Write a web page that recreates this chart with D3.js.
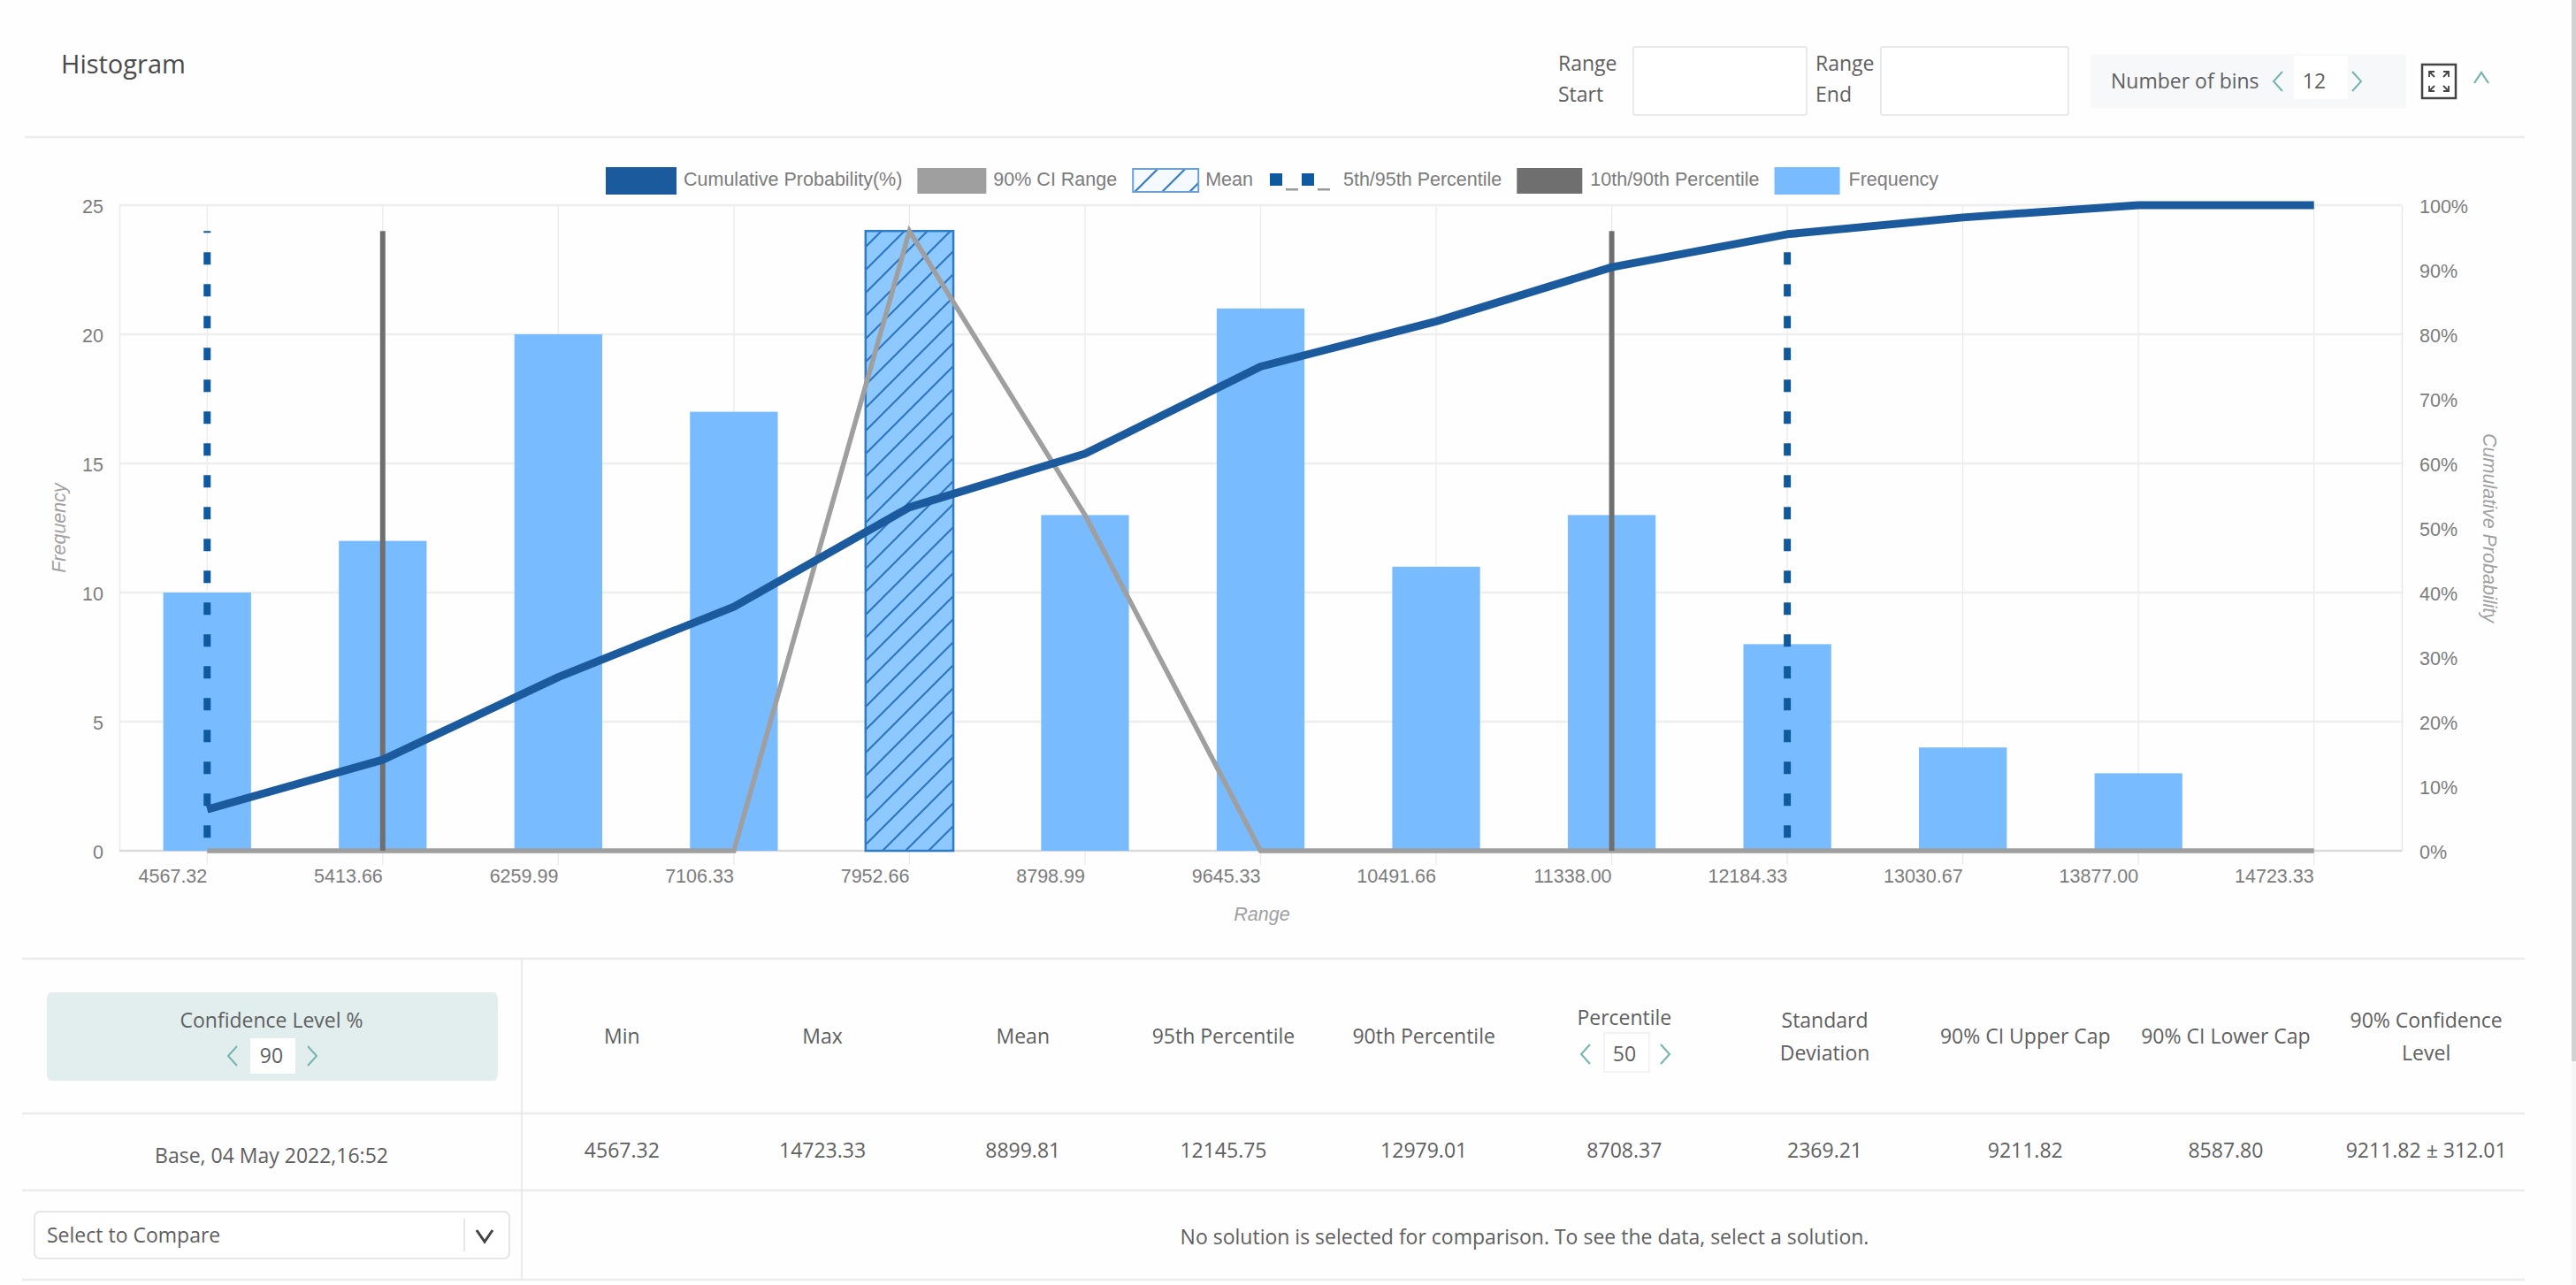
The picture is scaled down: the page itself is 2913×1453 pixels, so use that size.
<!DOCTYPE html>
<html>
<head>
<meta charset="utf-8">
<title>Histogram</title>
<script src="https://cdn.jsdelivr.net/npm/d3@7"></script>
<style>
  body { margin: 0; background: #fff; }
  svg { display: block; }
  .ui { font-family: "Open Sans", sans-serif; font-size: 23px; fill: #5f5f5f; }
  .chart text { font-family: "Liberation Sans", Arial, sans-serif; font-size: 21.5px; fill: #7c7c7c; }
  .chart .title { font-style: italic; fill: #a0a0a0; }
</style>
</head>
<body>
<div id="vis"></div>
<script>
// chart data
const binLabels = ["4567.32", "5413.66", "6259.99", "7106.33", "7952.66", "8798.99", "9645.33",
  "10491.66", "11338.00", "12184.33", "13030.67", "13877.00", "14723.33"];
const frequency = [10, 12, 20, 17, 24, 13, 21, 11, 13, 8, 4, 3, 0];
const cumulative = [6.4, 14.1, 26.9, 37.8, 53.2, 61.5, 75, 82, 90.4, 95.5, 98.1, 100, 100];
const ciRange = [0, 0, 0, 0, 24, 13, 0, 0, 0, 0, 0, 0, 0];
const meanBin = "7952.66";
const percentile5_95 = ["4567.32", "12184.33"];
const percentile10_90 = ["5413.66", "11338.00"];
const percentileTop = 24;
const freqTicks = [0, 5, 10, 15, 20, 25];
const pctTicks = [0, 10, 20, 30, 40, 50, 60, 70, 80, 90, 100];
const legendLabels = ["Cumulative Probability(%)", "90% CI Range", "Mean", "5th/95th Percentile", "10th/90th Percentile", "Frequency"];

// table data
const statHeaders = [["Min"], ["Max"], ["Mean"], ["95th Percentile"], ["90th Percentile"], ["Percentile"],
  ["Standard", "Deviation"], ["90% CI Upper Cap"], ["90% CI Lower Cap"], ["90% Confidence", "Level"]];
const statValues = ["4567.32", "14723.33", "8899.81", "12145.75", "12979.01", "8708.37", "2369.21", "9211.82", "8587.80", "9211.82 ± 312.01"];

// colors
const barColor = "#78bbff", meanFill = "#8dc8ff", hatchColor = "#2c74bd";
const cumColor = "#1c5a9e", ciColor = "#9f9f9f", p10Color = "#6f6f6f", p5Color = "#0f5a9e";
const teal = "#74b4b0", lineColor = "#ececec";

const svgWidth = 2913, svgHeight = 1453;
const plot = { left: 135, right: 2716, top: 232, bottom: 962 };

const svg = d3.select("#vis").append("svg")
  .attr("width", svgWidth)
  .attr("height", svgHeight);

svg.append("rect").attr("width", svgWidth).attr("height", svgHeight).attr("fill", "#fefefe");

// hatch for the mean bar and its legend swatch
const defs = svg.append("defs");
function addHatch(id, base, size, shift) {
  const p = defs.append("pattern").attr("id", id)
    .attr("patternUnits", "userSpaceOnUse")
    .attr("patternTransform", `translate(${shift},0)`)
    .attr("width", size).attr("height", size);
  p.append("rect").attr("width", size).attr("height", size).attr("fill", base);
  p.append("path").attr("d", `M-2,${size + 2}L${size + 2},-2M-2,2L2,-2M${size - 2},${size + 2}L${size + 2},${size - 2}`)
    .attr("stroke", hatchColor).attr("stroke-width", 2);
}
addHatch("hatch", meanFill, 26, 10);
addHatch("hatchLegend", "#f4faff", 31, 0);

// scales
const x = d3.scaleBand()
  .domain(binLabels)
  .range([plot.left, plot.right])
  .paddingInner(0.5)
  .paddingOuter(0.25);
const cx = d => x(d) + x.bandwidth() / 2;
const yFreq = d3.scaleLinear().domain([0, 25]).range([plot.bottom, plot.top]);
const yPct = d3.scaleLinear().domain([0, 100]).range([plot.bottom, plot.top]);

const chart = svg.append("g").attr("class", "chart");

// grid and axes
const xAxis = chart.append("g")
  .attr("transform", `translate(0,${plot.top})`)
  .call(d3.axisBottom(x).tickSize(plot.bottom - plot.top + 16).tickSizeOuter(0));
xAxis.select(".domain").remove();
xAxis.selectAll("line").attr("stroke", "#e9e9e9").attr("stroke-width", 1.2);
xAxis.selectAll("text")
  .attr("text-anchor", "end")
  .attr("x", 0)
  .attr("y", plot.bottom - plot.top + 29)
  .attr("dy", "0.32em");

const leftAxis = chart.append("g")
  .attr("transform", `translate(${plot.left},0)`)
  .call(d3.axisLeft(yFreq).tickValues(freqTicks).tickPadding(18).tickSize(0));
leftAxis.select(".domain").attr("stroke", "#ececec").attr("stroke-width", 1.5);
leftAxis.selectAll("text").attr("dy", "0.4em");

chart.append("g").selectAll("line")
  .data(freqTicks)
  .enter().append("line")
  .attr("x1", plot.left)
  .attr("x2", plot.right)
  .attr("y1", d => yFreq(d))
  .attr("y2", d => yFreq(d))
  .attr("stroke", d => d === 0 ? "#dcdcdc" : "#eeeeee")
  .attr("stroke-width", 2.5);

const rightAxis = chart.append("g")
  .attr("transform", `translate(${plot.right},0)`)
  .call(d3.axisRight(yPct).tickValues(pctTicks).tickFormat(d => d + "%").tickPadding(20).tickSize(0));
rightAxis.select(".domain").attr("stroke", "#e8e8ee").attr("stroke-width", 1.5);
rightAxis.selectAll("text").attr("dy", "0.4em");

// bars
chart.append("g").selectAll("rect")
  .data(binLabels)
  .enter().append("rect")
  .attr("x", d => x(d))
  .attr("width", x.bandwidth())
  .attr("y", (d, i) => yFreq(frequency[i]))
  .attr("height", (d, i) => yFreq(0) - yFreq(frequency[i]))
  .attr("fill", d => d === meanBin ? "url(#hatch)" : barColor)
  .attr("stroke", d => d === meanBin ? "#2f7cc6" : "none")
  .attr("stroke-width", 2.5);

// 90% CI range
chart.append("path")
  .datum(ciRange)
  .attr("fill", "none")
  .attr("stroke", ciColor)
  .attr("stroke-width", 5.5)
  .attr("d", d3.line().x((d, i) => cx(binLabels[i])).y(d => yFreq(d)));

// 10th/90th percentile
chart.append("g").selectAll("line")
  .data(percentile10_90)
  .enter().append("line")
  .attr("x1", cx).attr("x2", cx)
  .attr("y1", yFreq(percentileTop))
  .attr("y2", yFreq(0))
  .attr("stroke", p10Color)
  .attr("stroke-width", 6);

// 5th/95th percentile
chart.append("g").selectAll("line")
  .data(percentile5_95)
  .enter().append("line")
  .attr("x1", cx).attr("x2", cx)
  .attr("y1", yFreq(percentileTop))
  .attr("y2", yFreq(0))
  .attr("stroke", p5Color)
  .attr("stroke-width", 8)
  .attr("stroke-dasharray", "14 22")
  .attr("stroke-dashoffset", 12);

// cumulative probability
chart.append("path")
  .datum(cumulative)
  .attr("fill", "none")
  .attr("stroke", cumColor)
  .attr("stroke-width", 9)
  .attr("stroke-linejoin", "round")
  .attr("d", d3.line().x((d, i) => cx(binLabels[i])).y(d => yPct(d)));

// axis titles
chart.append("text").attr("class", "title")
  .attr("text-anchor", "middle")
  .attr("transform", `translate(74,${(plot.top + plot.bottom) / 2}) rotate(-90)`)
  .text("Frequency");
chart.append("text").attr("class", "title")
  .attr("text-anchor", "middle")
  .attr("transform", `translate(2808,${(plot.top + plot.bottom) / 2}) rotate(90)`)
  .text("Cumulative Probability");
chart.append("text").attr("class", "title")
  .attr("text-anchor", "middle")
  .attr("x", 1427).attr("y", 1041)
  .text("Range");

// legend, laid out left to right from the measured text widths
let legendX = 685;
const legendSwatches = [
  g => g.append("rect").attr("width", 80).attr("height", 31).attr("fill", cumColor),
  g => g.append("rect").attr("width", 78).attr("height", 29).attr("y", 1).attr("fill", ciColor),
  g => g.append("rect").attr("x", 1).attr("y", 2).attr("width", 74).attr("height", 26)
    .attr("fill", "url(#hatchLegend)").attr("stroke", "#6d9fd4").attr("stroke-width", 2),
  g => {
    [0, 36].forEach(dx => {
      g.append("rect").attr("x", 2 + dx).attr("y", 7).attr("width", 14).attr("height", 14).attr("fill", p5Color);
      g.append("rect").attr("x", 20 + dx).attr("y", 24).attr("width", 14).attr("height", 2.5).attr("fill", "#999");
    });
  },
  g => g.append("rect").attr("width", 74).attr("height", 29).attr("y", 1).attr("fill", p10Color),
  g => g.append("rect").attr("width", 74).attr("height", 31).attr("fill", barColor)
];
const legendWidths = [80, 78, 75, 77, 75, 76];
legendLabels.forEach((label, i) => {
  const g = chart.append("g").attr("transform", `translate(${legendX},189)`);
  legendSwatches[i](g);
  const t = g.append("text")
    .attr("x", legendWidths[i] + 8)
    .attr("y", 14)
    .attr("dy", "0.32em")
    .text(label);
  legendX += legendWidths[i] + 8 + t.node().getComputedTextLength() + 17;
});

// --- page furniture around the chart ---
const ui = svg.append("g").attr("class", "ui");

function label(g, px, py, str, anchor) {
  return g.append("text")
    .attr("class", "ui")
    .attr("x", px).attr("y", py)
    .attr("dy", "0.35em")
    .attr("text-anchor", anchor || "start")
    .text(str);
}
function hline(py, x1, x2) {
  ui.append("line").attr("x1", x1).attr("x2", x2).attr("y1", py).attr("y2", py)
    .attr("stroke", lineColor).attr("stroke-width", 2.5);
}
function chevron(px, py, dir, color) {
  // dir -1 points left, +1 right
  ui.append("path")
    .attr("d", `M${px - dir * 5},${py - 11}L${px + dir * 5},${py}L${px - dir * 5},${py + 11}`)
    .attr("fill", "none")
    .attr("stroke", color || teal)
    .attr("stroke-width", 2);
}
function box(px, py, w, h, fill, stroke, r) {
  return ui.append("rect").attr("x", px).attr("y", py).attr("width", w).attr("height", h)
    .attr("rx", r || 0).attr("fill", fill).attr("stroke", stroke || "none").attr("stroke-width", 1.5);
}

// scrollbar at the page edge
box(2908, 0, 5, 1453, "#f6f6f6");
box(2908, 0, 5, 1200, "#d2d2d2");

// header
label(ui, 69, 73, "Histogram").style("font-size", "29px").style("fill", "#4a4a4a");
hline(155, 28, 2855);
label(ui, 1762, 72, "Range");
label(ui, 1762, 107, "Start");
box(1847, 53, 196, 77, "#fff", "#e2e2e2", 2);
label(ui, 2053, 72, "Range");
label(ui, 2053, 107, "End");
box(2127, 53, 212, 77, "#fff", "#e2e2e2", 2);
box(2364, 61, 357, 62, "#f7f8fa", "none", 4);
label(ui, 2387, 92, "Number of bins");
chevron(2576, 92, -1);
box(2594, 63, 61, 49, "#fff");
label(ui, 2617, 92, "12", "middle");
chevron(2665, 92, 1);

// fullscreen icon
box(2739, 73, 38, 38, "#fff", "#444").attr("stroke-width", 2.5);
[[-1, -1], [1, -1], [-1, 1], [1, 1]].forEach(([sx, sy]) => {
  const ax = 2758 + sx * 11, ay = 92 + sy * 11;
  ui.append("path")
    .attr("d", `M${ax - sx * 6},${ay}L${ax},${ay}L${ax},${ay - sy * 6}M${ax},${ay}L${ax - sx * 6},${ay - sy * 6}`)
    .attr("fill", "none").attr("stroke", "#444").attr("stroke-width", 1.8);
});
ui.append("path").attr("d", "M2798,94L2806,82L2814,94")
  .attr("fill", "none").attr("stroke", teal).attr("stroke-width", 2.2);

// table rules
[1084, 1259, 1346, 1447].forEach(py => hline(py, 25, 2855));
ui.append("line").attr("x1", 590).attr("x2", 590).attr("y1", 1084).attr("y2", 1447)
  .attr("stroke", "#e4e4e4").attr("stroke-width", 1.5);

// confidence level cell
box(53, 1122, 510, 100, "#e2eeee", "none", 6);
label(ui, 307, 1154, "Confidence Level %", "middle");
box(283, 1174, 51, 40, "#fff");
label(ui, 307, 1194, "90", "middle");
chevron(263, 1194, -1);
chevron(353, 1194, 1);
label(ui, 307, 1307, "Base, 04 May 2022,16:52", "middle");

// select box
box(39, 1370, 537, 53, "#fff", "#dedede", 6);
label(ui, 53, 1397, "Select to Compare");
ui.append("line").attr("x1", 525).attr("x2", 525).attr("y1", 1378).attr("y2", 1415)
  .attr("stroke", "#e0e0e0").attr("stroke-width", 1.5);
ui.append("path").attr("d", "M539,1391L548,1404L557,1391")
  .attr("fill", "none").attr("stroke", "#444").attr("stroke-width", 3);

// stats columns
const col = d3.scaleBand().domain(d3.range(statHeaders.length)).range([590, 2857]);
const colX = i => col(i) + col.bandwidth() / 2;
statHeaders.forEach((lines, i) => {
  if (lines[0] === "Percentile") {
    label(ui, colX(i), 1151, lines[0], "middle");
  } else if (lines.length === 1) {
    label(ui, colX(i), 1172, lines[0], "middle");
  } else {
    label(ui, colX(i), 1154, lines[0], "middle");
    label(ui, colX(i), 1191, lines[1], "middle");
  }
  label(ui, colX(i), 1301, statValues[i], "middle");
});
box(1814, 1168, 51, 44, "#fff", "#f0f0f0");
label(ui, 1837, 1192, "50", "middle");
chevron(1793, 1192, -1);
chevron(1883, 1192, 1);

label(ui, 1724, 1399, "No solution is selected for comparison. To see the data, select a solution.", "middle");
</script>
</body>
</html>
